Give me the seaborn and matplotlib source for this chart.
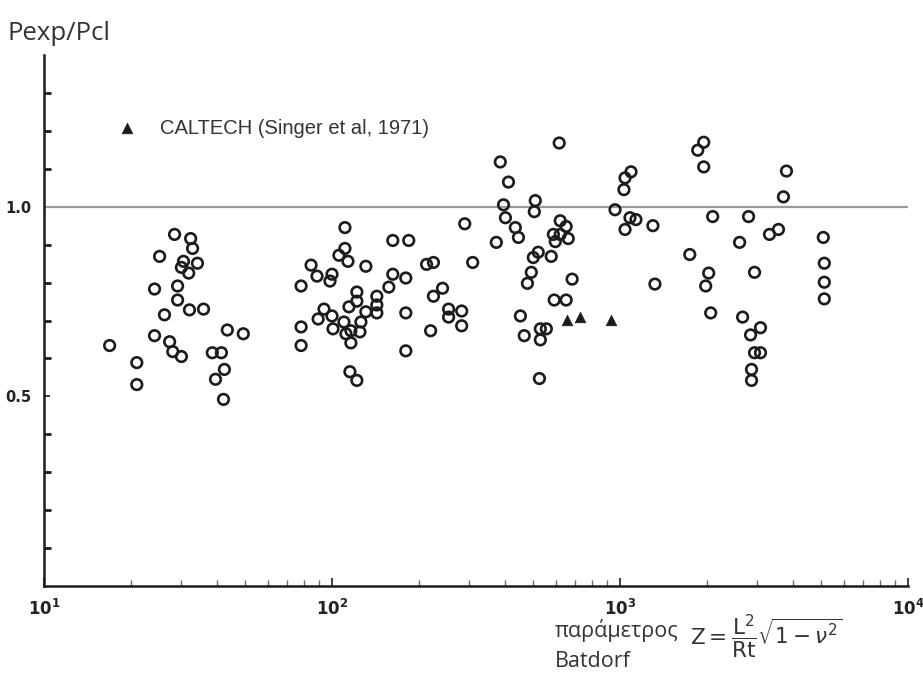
import numpy as np
import pandas as pd
import matplotlib
matplotlib.use("Agg")
import matplotlib.pyplot as plt
import seaborn as sns
from matplotlib.ticker import FixedLocator, NullFormatter, LogLocator

# Batdorf parameter Z for each test (open circles)
test_z = [16.9, 21.0, 21.0, 24.2, 25.2, 28.4, 32.3, 32.8, 30.5, 30.0, 34.1, 31.8, 29.1, 29.1,
          26.2, 32.0, 35.8, 24.2, 27.3, 28.0, 30.0, 43.3, 49.2, 38.4, 41.3, 42.3, 39.4, 42.0,
          78.1, 78.1, 78.1, 84.6, 88.7, 100, 98.4, 105.7, 110.9, 110.9, 113.6, 131.1, 93.8,
          89.5, 100, 100.8, 110.0, 111.8, 116.3, 116.3, 125.0, 126.0, 114.5, 122.0, 122.0,
          131.1, 143.1, 143.1, 143.1, 157.5, 162.6, 184.7, 162.6, 180.4, 180.4, 180.4, 115.4, 122.0,
          213, 225, 242, 225, 254, 254, 282, 282, 220, 289, 308,
          372, 384, 410, 394, 400, 433, 444, 508, 504, 615, 620, 650, 587, 620, 661,
          596, 577, 520, 500, 492, 477, 682, 591, 650, 451, 465, 529, 555, 529, 525,
          961, 1092, 1041, 1032, 1083, 1136, 1041, 1301, 1322,
          1953, 1862, 1953, 3784, 3694, 2098, 2795, 3304, 3550, 2602, 5080, 1747, 2032,
          1984, 2932, 5121, 5121, 5121, 2065, 2665, 3075, 2840, 2932, 3075, 2862, 2862]
# Pexp/Pcl for each test
test_ratio = [0.634, 0.589, 0.531, 0.783, 0.869, 0.927, 0.916, 0.890, 0.856, 0.840, 0.851, 0.825,
              0.791, 0.754, 0.715, 0.728, 0.730, 0.660, 0.644, 0.618, 0.605, 0.675, 0.665, 0.615,
              0.615, 0.571, 0.545, 0.492,
              0.791, 0.683, 0.634, 0.846, 0.817, 0.822, 0.804, 0.872, 0.890, 0.945, 0.856, 0.843,
              0.730, 0.704, 0.712, 0.678, 0.696, 0.665, 0.673, 0.641, 0.670, 0.696, 0.736, 0.775,
              0.751, 0.723, 0.764, 0.741, 0.720, 0.788, 0.911, 0.911, 0.822, 0.812, 0.720, 0.620,
              0.565, 0.542,
              0.848, 0.853, 0.785, 0.764, 0.730, 0.709, 0.725, 0.686, 0.673, 0.955, 0.853,
              0.906, 1.118, 1.065, 1.005, 0.971, 0.945, 0.919, 1.016, 0.987, 1.168, 0.963, 0.948,
              0.927, 0.927, 0.916, 0.908, 0.869, 0.880, 0.866, 0.827, 0.798, 0.809, 0.754, 0.754,
              0.712, 0.660, 0.678, 0.678, 0.649, 0.547,
              0.992, 1.092, 1.076, 1.045, 0.971, 0.966, 0.940, 0.950, 0.796,
              1.170, 1.149, 1.105, 1.094, 1.026, 0.974, 0.974, 0.927, 0.940, 0.906, 0.919, 0.874,
              0.825, 0.791, 0.827, 0.851, 0.801, 0.757, 0.720, 0.709, 0.681, 0.662, 0.615, 0.615,
              0.571, 0.542]

# CALTECH tests (filled triangles)
caltech_z = [655, 727, 931]
caltech_ratio = [0.702, 0.709, 0.702]
caltech_label = "CALTECH (Singer et al, 1971)"

x_major = [10, 100, 1000, 10000]
x_major_labels = [r"$\mathbf{10^{1}}$", r"$\mathbf{10^{2}}$", r"$\mathbf{10^{3}}$", r"$\mathbf{10^{4}}$"]
y_major = [0.5, 1.0]
y_major_labels = ["0.5", "1.0"]
y_minor = [0.1, 0.2, 0.3, 0.4, 0.6, 0.7, 0.8, 0.9, 1.1, 1.2, 1.3]

df_tests = pd.DataFrame({"Z": test_z, "ratio": test_ratio})
df_cal = pd.DataFrame({"Z": caltech_z, "ratio": caltech_ratio})

sns.set_style("white")
plt.rcParams["font.family"] = ["DejaVu Sans"]

ink = "#1c1c1c"
fig = plt.figure(figsize=(9.23, 6.74), dpi=100)
ax = fig.add_axes([44 / 923, 1 - 586 / 674, 864 / 923, 531 / 674])

ax.axhline(1.0, color="#9a9a9a", lw=1.6, zorder=1)

sns.scatterplot(data=df_tests, x="Z", y="ratio", ax=ax, marker="o", s=58,
                facecolor="none", edgecolor=ink, linewidth=1.9, legend=False, zorder=3)
sns.scatterplot(data=df_cal, x="Z", y="ratio", ax=ax, marker="^", s=58,
                color=ink, edgecolor=ink, linewidth=0.5, label=caltech_label, zorder=4)

ax.set_xscale("log")
ax.set_xlim(10, 10000)
ax.set_ylim(0, 1.4)

for side in ["top", "right"]:
    ax.spines[side].set_visible(False)
for side in ["left", "bottom"]:
    ax.spines[side].set_color(ink)
    ax.spines[side].set_linewidth(1.8)

ax.tick_params(which="both", left=True, bottom=True, top=False, right=False)

ax.xaxis.set_major_locator(FixedLocator(x_major))
ax.set_xticklabels(x_major_labels, fontsize=12, color="#222222")
ax.xaxis.set_minor_locator(LogLocator(base=10, subs=np.arange(2, 10)))
ax.xaxis.set_minor_formatter(NullFormatter())
ax.tick_params(axis="x", which="major", direction="in", length=6, width=1.2, color=ink, pad=9)
ax.tick_params(axis="x", which="minor", direction="in", length=4, width=1.0, color="#666666")

ax.yaxis.set_major_locator(FixedLocator(y_major))
ax.set_yticklabels(y_major_labels, fontsize=10.5, fontweight="bold", color="#222222")
ax.yaxis.set_minor_locator(FixedLocator(y_minor))
ax.tick_params(axis="y", which="major", direction="in", length=4, width=1.2, color=ink, pad=9)
ax.tick_params(axis="y", which="minor", direction="in", length=5, width=2.0, color=ink)
ax.set_xlabel("")
ax.set_ylabel("")

leg = ax.legend(loc="center left", bbox_to_anchor=(0.084, 0.862), frameon=False,
                handlelength=1.0, handletextpad=1.15,
                borderpad=0, borderaxespad=0, prop={"family": "Liberation Sans", "size": 14.5})
for t in leg.get_texts():
    t.set_color("#333333")

fig.text(8 / 923, 1 - 40 / 674, "Pexp/Pcl", fontsize=18.5, family="Open Sans",
         color="#333333", ha="left", va="baseline")
fig.text(555 / 923, 1 - 637 / 674, "παράμετρος", fontsize=15.5, family="Open Sans",
         color="#333333", ha="left", va="baseline")
fig.text(555 / 923, 1 - 667 / 674, "Batdorf", fontsize=15.5, family="Open Sans",
         color="#333333", ha="left", va="baseline")
fig.text(690 / 923, 1 - 636 / 674, r"$\mathrm{Z} = \dfrac{\mathrm{L}^{2}}{\mathrm{Rt}}\sqrt{1-\nu^{2}}$",
         fontsize=15.5, color="#333333", ha="left", va="center")

fig.savefig("out.png", dpi=100, facecolor="white")
